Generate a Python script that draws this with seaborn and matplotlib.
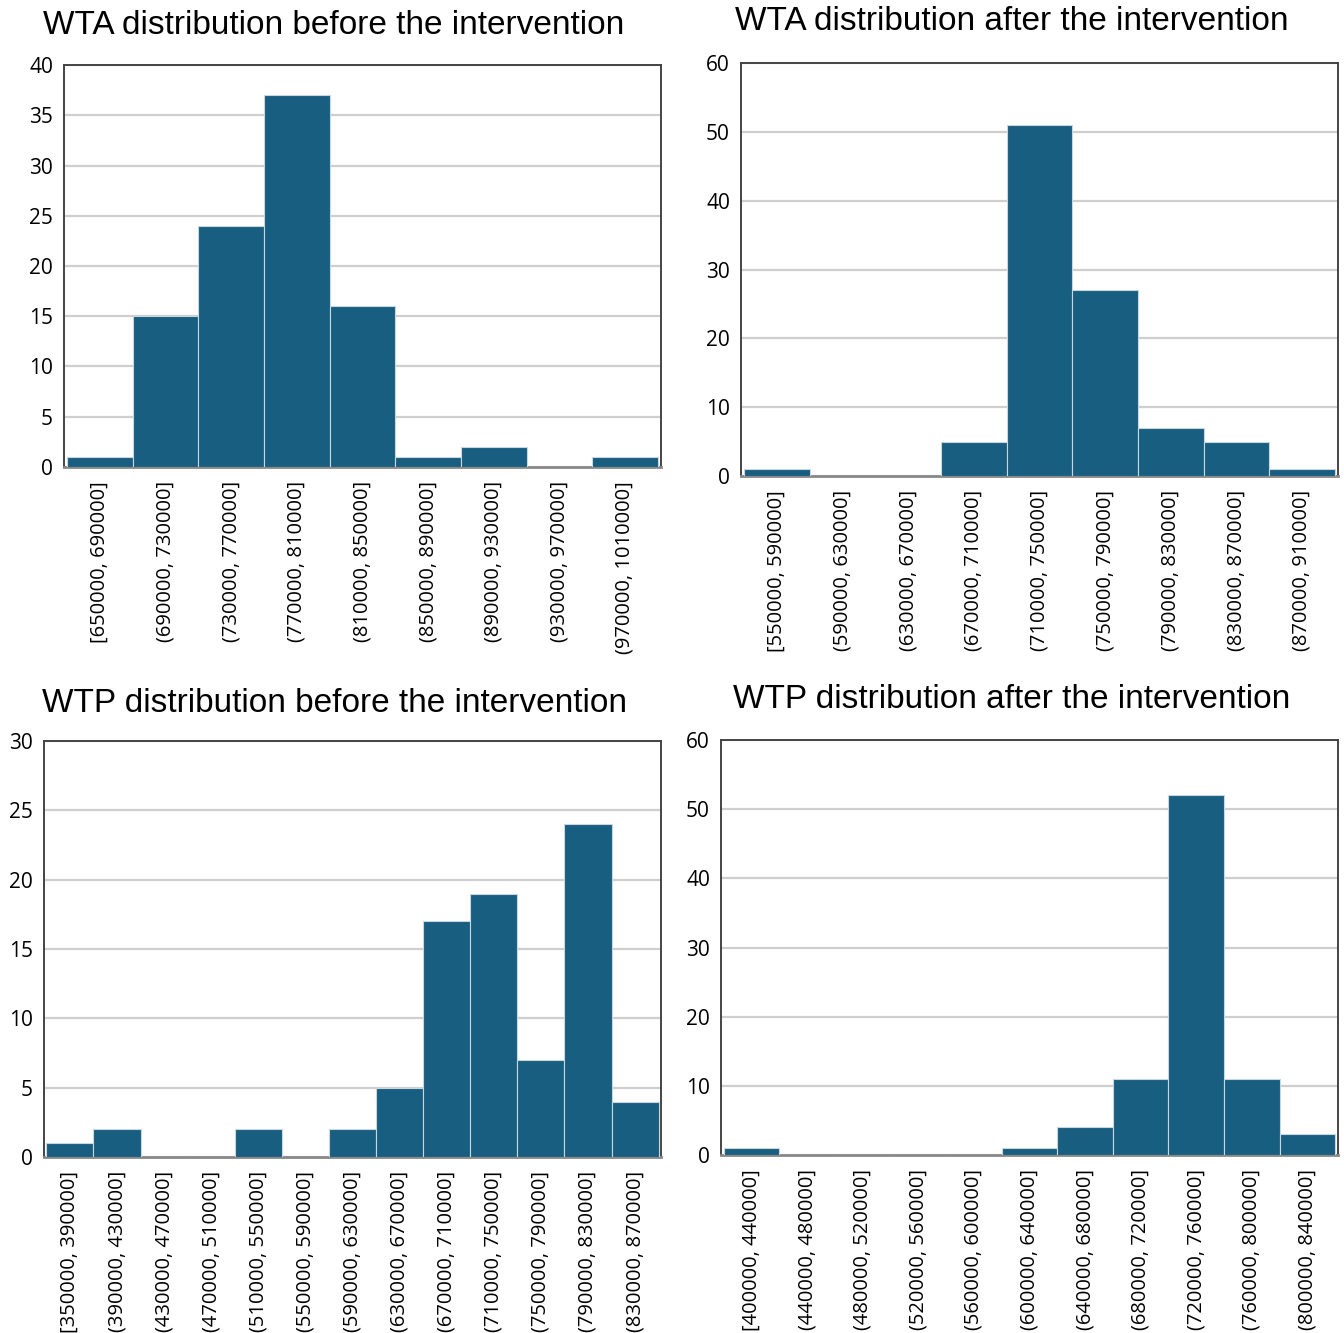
import seaborn as sns
import matplotlib.pyplot as plt
import pandas as pd

# bin labels and counts
wta_before_bins = ['[650000, 690000]', '(690000, 730000]', '(730000, 770000]', '(770000, 810000]',
                   '(810000, 850000]', '(850000, 890000]', '(890000, 930000]', '(930000, 970000]',
                   '(970000, 1010000]']
wta_before_counts = [1, 15, 24, 37, 16, 1, 2, 0, 1]

wta_after_bins = ['[550000, 590000]', '(590000, 630000]', '(630000, 670000]', '(670000, 710000]',
                  '(710000, 750000]', '(750000, 790000]', '(790000, 830000]', '(830000, 870000]',
                  '(870000, 910000]']
wta_after_counts = [1, 0, 0, 5, 51, 27, 7, 5, 1]

wtp_before_bins = ['[350000, 390000]', '(390000, 430000]', '(430000, 470000]', '(470000, 510000]',
                   '(510000, 550000]', '(550000, 590000]', '(590000, 630000]', '(630000, 670000]',
                   '(670000, 710000]', '(710000, 750000]', '(750000, 790000]', '(790000, 830000]',
                   '(830000, 870000]']
wtp_before_counts = [1, 2, 0, 0, 2, 0, 2, 5, 17, 19, 7, 24, 4]

wtp_after_bins = ['[400000, 440000]', '(440000, 480000]', '(480000, 520000]', '(520000, 560000]',
                  '(560000, 600000]', '(600000, 640000]', '(640000, 680000]', '(680000, 720000]',
                  '(720000, 760000]', '(760000, 800000]', '(800000, 840000]']
wtp_after_counts = [1, 0, 0, 0, 0, 1, 4, 11, 52, 11, 3]

sns.set_style('white')
plt.rcParams['font.family'] = ['Open Sans', 'DejaVu Sans']

W, H = 1344, 1333
fig = plt.figure(figsize=(W / 100, H / 100), dpi=100)

BAR = '#185e80'


def px_axes(left, top, right, bottom):
    return fig.add_axes([left / W, 1 - bottom / H, (right - left) / W, (bottom - top) / H])


panels = [
    ('WTA distribution before the intervention', wta_before_bins, wta_before_counts,
     (64, 65, 661, 467), 40, 5, (334, 25)),
    ('WTA distribution after the intervention', wta_after_bins, wta_after_counts,
     (741, 63, 1338, 476), 60, 10, (1012, 22)),
    ('WTP distribution before the intervention', wtp_before_bins, wtp_before_counts,
     (44, 741, 661, 1157), 30, 5, (334, 703)),
    ('WTP distribution after the intervention', wtp_after_bins, wtp_after_counts,
     (721, 740, 1338, 1155), 60, 10, (1012, 700)),
]

for title, bins, counts, box, ymax, step, tpos in panels:
    ax = px_axes(*box)
    df = pd.DataFrame({'bin': bins, 'count': counts})
    sns.barplot(data=df, x='bin', y='count', color=BAR, width=1.0, saturation=1,
                edgecolor='#c9d6de', linewidth=0.8, ax=ax, zorder=3)
    ax.set_xlim(-0.55, len(bins) - 0.45)
    ax.set_ylim(0, ymax)
    ax.set_yticks(range(0, ymax + 1, step))
    ax.yaxis.grid(True, color='#cfcfcf', linewidth=1.6, zorder=0)
    ax.set_axisbelow(True)
    ax.set_xlabel('')
    ax.set_ylabel('')
    ax.tick_params(axis='x', labelrotation=90, labelsize=14.5, length=0, pad=10, labelcolor='black')
    ax.tick_params(axis='y', labelsize=15, length=0, pad=8, labelcolor='black')
    for side in ['left', 'top', 'right']:
        ax.spines[side].set_color('#444444')
        ax.spines[side].set_linewidth(1.4)
    ax.spines['bottom'].set_color('#888888')
    ax.spines['bottom'].set_linewidth(2)
    fig.text(tpos[0] / W, 1 - tpos[1] / H, title, ha='center', va='center', color='black',
             fontsize=24, family=['Liberation Sans', 'DejaVu Sans'])

plt.savefig('out.png', dpi=100)
